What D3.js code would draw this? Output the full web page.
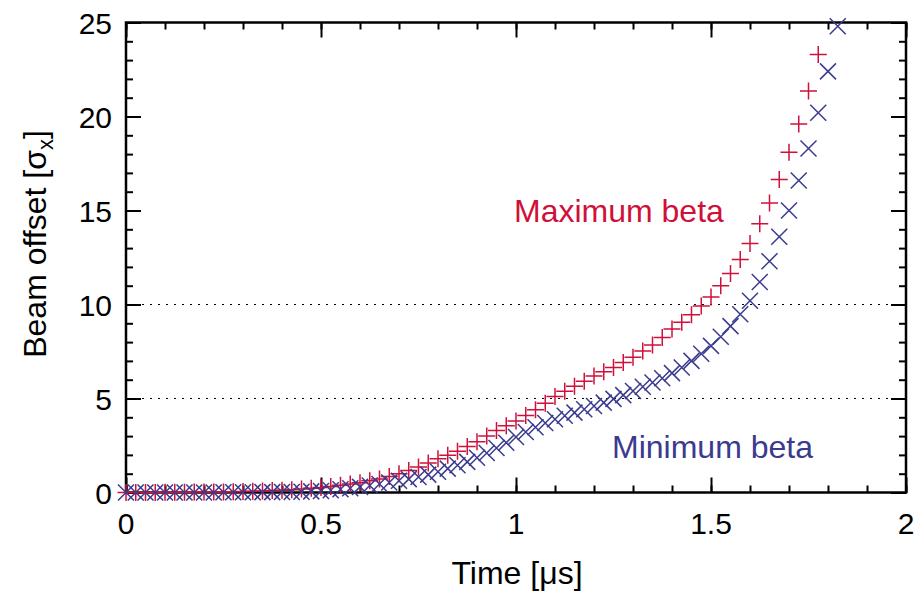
<!DOCTYPE html>
<html>
<head>
<meta charset="utf-8">
<script src="https://cdn.jsdelivr.net/npm/d3@7"></script>
<style>
html,body{margin:0;padding:0;background:#fff;}
svg{display:block;font-family:"Liberation Sans",Arial,sans-serif;}
</style>
</head>
<body>
<svg id="chart" width="914" height="591"></svg>
<script>
// Time samples [µs]
const times = [0,0.025,0.05,0.075,0.1,0.125,0.15,0.175,0.2,0.225,0.25,0.275,0.3,0.325,0.35,0.375,0.4,0.425,0.45,0.475,
  0.5,0.525,0.55,0.575,0.6,0.625,0.65,0.675,0.7,0.725,0.75,0.775,0.8,0.825,0.85,0.875,0.9,0.925,0.95,0.975,
  1.0,1.025,1.05,1.075,1.1,1.125,1.15,1.175,1.2,1.225,1.25,1.275,1.3,1.325,1.35,1.375,1.4,1.425,1.45,1.475,
  1.5,1.525,1.55,1.575,1.6,1.625,1.65,1.675,1.7,1.725,1.75,1.775,1.8,1.825];

// Maximum beta (red +)
const maxBeta = [0,0,0,0,0.01,0.01,0.01,0.02,0.02,0.03,0.03,0.04,0.05,0.06,0.08,0.10,0.12,0.15,0.18,0.22,
  0.27,0.32,0.38,0.45,0.52,0.62,0.72,0.85,1.00,1.17,1.35,1.57,1.80,1.98,2.20,2.45,2.70,3.00,3.30,3.55,
  3.80,4.10,4.40,4.75,5.10,5.38,5.65,5.92,6.20,6.42,6.65,6.92,7.20,7.52,7.85,8.25,8.70,9.05,9.45,9.92,
  10.40,11.00,11.65,12.40,13.25,14.30,15.40,16.65,18.10,19.60,21.35,23.30];

// Minimum beta (blue x)
const minBeta = [0,0,0,0,0,0,0,0,0,0,0.01,0.01,0.01,0.01,0.02,0.02,0.03,0.03,0.04,0.06,
  0.08,0.12,0.17,0.23,0.30,0.37,0.45,0.53,0.62,0.71,0.82,0.95,1.10,1.27,1.45,1.63,1.85,2.10,2.37,2.65,
  2.95,3.22,3.47,3.70,3.90,4.08,4.25,4.43,4.60,4.78,4.98,5.18,5.40,5.62,5.85,6.08,6.35,6.65,7.00,7.38,
  7.80,8.28,8.85,9.48,10.20,11.20,12.30,13.60,15.00,16.60,18.30,20.20,22.40,24.80];

const xTicks = [0, 0.5, 1, 1.5, 2];
const xTickLabels = ["0", "0.5", "1", "1.5", "2"];
const yTicks = [0, 5, 10, 15, 20, 25];
const gridValues = [5, 10];

const red = "#d0103a", blue = "#3a3a8e";
const svg = d3.select("#chart");
const L = 126, R = 906, T = 22.5, B = 492.5;
const x = d3.scaleLinear().domain([0, 2]).range([L, R]);
const y = d3.scaleLinear().domain([0, 25]).range([B, T]);

// grid dotted lines
svg.append("g").selectAll("line").data(gridValues).join("line")
  .attr("x1", L).attr("x2", R).attr("y1", d => y(d)).attr("y2", d => y(d))
  .attr("stroke", "#000").attr("stroke-width", 1.2).attr("stroke-dasharray", "2,6");

// axes with inward ticks
const minorX = d3.range(0, 2.0001, 0.1);
const minorY = d3.range(0, 25.0001, 1);
function addAxis(axis, tx, ty) {
  const g = svg.append("g").attr("transform", `translate(${tx},${ty})`).call(axis);
  g.select(".domain").remove();
  g.selectAll("line").attr("stroke", "#000").attr("stroke-width", 2);
  return g;
}
addAxis(d3.axisBottom(x).tickValues(minorX).tickSize(-7).tickFormat(""), 0, B);
addAxis(d3.axisTop(x).tickValues(minorX).tickSize(-7).tickFormat(""), 0, T);
addAxis(d3.axisLeft(y).tickValues(minorY).tickSize(-7).tickFormat(""), L, 0);
addAxis(d3.axisRight(y).tickValues(minorY).tickSize(-7).tickFormat(""), R, 0);
addAxis(d3.axisBottom(x).tickValues(xTicks).tickSize(-15).tickFormat(""), 0, B);
addAxis(d3.axisTop(x).tickValues(xTicks).tickSize(-15).tickFormat(""), 0, T);
addAxis(d3.axisLeft(y).tickValues(yTicks).tickSize(-15).tickFormat(""), L, 0);
addAxis(d3.axisRight(y).tickValues(yTicks).tickSize(-15).tickFormat(""), R, 0);

// tick labels
svg.append("g").selectAll("text").data(xTicks).join("text")
  .attr("x", d => x(d)).attr("y", 534).attr("text-anchor", "middle")
  .attr("font-size", 30).text((d, i) => xTickLabels[i]);
svg.append("g").selectAll("text").data(yTicks).join("text")
  .attr("x", 112).attr("y", d => y(d) + 11).attr("text-anchor", "end")
  .attr("font-size", 30).text(d => d);

// frame
svg.append("rect").attr("x", L).attr("y", T).attr("width", R - L).attr("height", B - T)
  .attr("fill", "none").attr("stroke", "#000").attr("stroke-width", 2.5);

// markers
const s = 8.5;
const gMax = svg.append("g").attr("stroke", red).attr("stroke-width", 1.5).attr("fill", "none");
gMax.selectAll("path").data(maxBeta).join("path")
  .attr("d", (d, i) => { const cx = x(times[i]), cy = y(d);
    return `M${cx - s},${cy}H${cx + s}M${cx},${cy - s}V${cy + s}`; });
const gMin = svg.append("g").attr("stroke", blue).attr("stroke-width", 1.5).attr("fill", "none");
const k = 8;
gMin.selectAll("path").data(minBeta).join("path")
  .attr("d", (d, i) => { const cx = x(times[i]), cy = y(d);
    return `M${cx - k},${cy - k}L${cx + k},${cy + k}M${cx - k},${cy + k}L${cx + k},${cy - k}`; });

// annotations
svg.append("text").attr("x", 514).attr("y", 222).attr("fill", red).attr("font-size", 32).text("Maximum beta");
svg.append("text").attr("x", 612).attr("y", 458).attr("fill", blue).attr("font-size", 32).text("Minimum beta");

// axis titles
svg.append("text").attr("x", 517).attr("y", 584).attr("text-anchor", "middle").attr("font-size", 32)
  .text("Time [μs]");
const yl = svg.append("text").attr("transform", "translate(46,244) rotate(-90)")
  .attr("text-anchor", "middle").attr("font-size", 32);
yl.append("tspan").text("Beam offset [σ");
yl.append("tspan").attr("font-size", 22).attr("dy", 7).text("x");
yl.append("tspan").attr("dy", -7).text("]");
</script>
</body>
</html>
